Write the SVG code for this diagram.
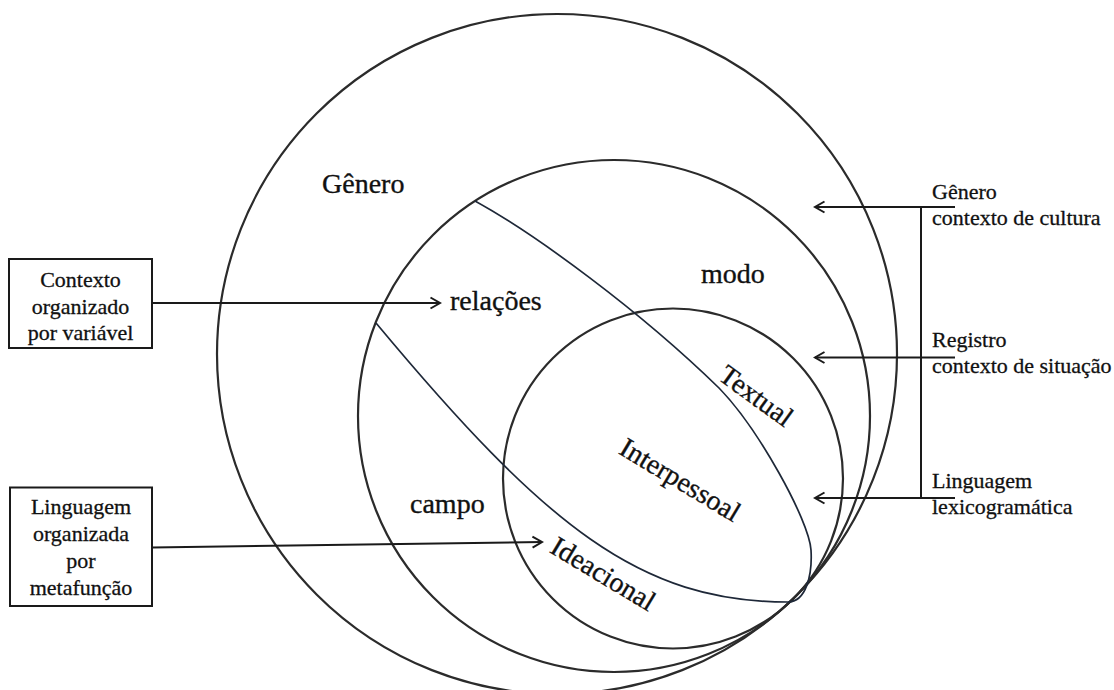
<svg xmlns="http://www.w3.org/2000/svg" width="1114" height="690" viewBox="0 0 1114 690">
<style>
.c{fill:none;stroke:#2b2b2b;stroke-width:2.2}
.e{fill:none;stroke:#1e2838;stroke-width:1.7}
.ln{fill:none;stroke:#1a1a1a;stroke-width:2}
.box{fill:#fff;stroke:#1a1a1a;stroke-width:2}
.big{font-family:"Liberation Serif","Times New Roman",serif;font-size:28px;fill:#111;stroke:#111;stroke-width:0.35}
.sm{font-family:"Liberation Serif","Times New Roman",serif;font-size:22px;fill:#111;stroke:#111;stroke-width:0.3}
</style>
<defs>
<marker id="v" markerWidth="13" markerHeight="14" refX="11" refY="7" orient="auto" markerUnits="userSpaceOnUse">
<path d="M1.5,1.5 L11,7 L1.5,12.5" fill="none" stroke="#1a1a1a" stroke-width="2"/>
</marker>
</defs>
<rect width="1114" height="690" fill="#fff"/>
<g id="circles">
<circle id="genero-circle" class="c" cx="557" cy="354" r="340"/>
<circle id="registro-circle" class="c" cx="614" cy="416" r="256"/>
<circle id="linguagem-circle" class="c" cx="673" cy="478.5" r="170"/>
<path id="divisoes" class="e" d="M475,201 C535,234 639,310 719,388 C758,428 809,520 811,550 C812.5,575 806,602 788,602 C640,602 546,527 376,323"/>
</g>
<g id="labels">
<text class="big" x="322" y="193">Gênero</text>
<text class="big" x="450" y="310">relações</text>
<text class="big" x="701" y="283">modo</text>
<text class="big" x="410" y="513">campo</text>
<text class="big" text-anchor="middle" transform="translate(756,396) rotate(36)" y="9">Textual</text>
<text class="big" text-anchor="middle" transform="translate(680,480) rotate(31)" y="9">Interpessoal</text>
<text class="big" text-anchor="middle" transform="translate(603,574) rotate(31)" y="9">Ideacional</text>
</g>
<g id="box-contexto">
<rect class="box" x="9" y="259" width="143" height="89"/>
<text class="sm" text-anchor="middle" x="80.5" y="287">Contexto</text>
<text class="sm" text-anchor="middle" x="80.5" y="313.5">organizado</text>
<text class="sm" text-anchor="middle" x="80.5" y="340">por variável</text>
</g>
<g id="box-linguagem">
<rect class="box" x="10" y="487.5" width="142" height="118.5"/>
<text class="sm" text-anchor="middle" x="81" y="514">Linguagem</text>
<text class="sm" text-anchor="middle" x="81" y="541">organizada</text>
<text class="sm" text-anchor="middle" x="81" y="568">por</text>
<text class="sm" text-anchor="middle" x="81" y="595">metafunção</text>
</g>
<g id="right-labels">
<text class="sm" x="932" y="199">Gênero</text>
<text class="sm" x="932" y="225">contexto de cultura</text>
<text class="sm" x="932" y="347">Registro</text>
<text class="sm" x="932" y="373">contexto de situação</text>
<text class="sm" x="932" y="488">Linguagem</text>
<text class="sm" x="932" y="514">lexicogramática</text>
</g>
<g id="connectors">
<line class="ln" x1="152" y1="303" x2="440" y2="303" marker-end="url(#v)"/>
<line class="ln" x1="152" y1="547.5" x2="542" y2="542" marker-end="url(#v)"/>
<line class="ln" x1="955" y1="207" x2="815" y2="207" marker-end="url(#v)"/>
<line class="ln" x1="955" y1="357.5" x2="815" y2="357.5" marker-end="url(#v)"/>
<line class="ln" x1="955" y1="498" x2="815" y2="498" marker-end="url(#v)"/>
<line class="ln" x1="921" y1="206" x2="921" y2="499"/>
</g>
</svg>
